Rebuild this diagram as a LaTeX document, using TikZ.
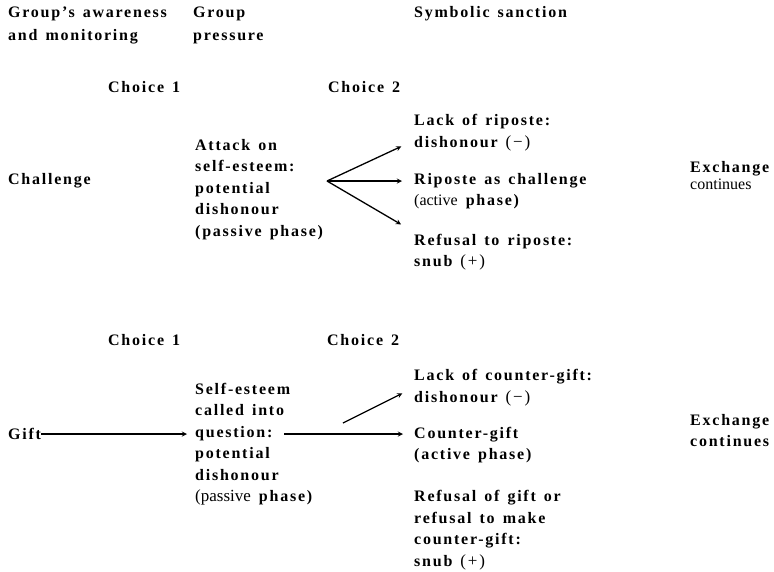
\documentclass[tikz,border=0pt]{standalone}
\usepackage{fontspec}
\setmainfont{Liberation Serif}[LetterSpace=11,WordSpace=1.4]
\usepackage{tikz}
\usetikzlibrary{positioning,arrows}
\newcommand{\sign}[1]{{\mdseries\fontsize{17}{21.5}\selectfont(#1)}}

\begin{document}
\begin{tikzpicture}[x=1pt,y=-1pt]
                \tikzstyle{lbl} = [anchor=west, align=left, inner sep=0pt, font=\bfseries\fontsize{16}{21.5}\selectfont]
                \tikzstyle{arrow} = [line width=1.3pt,->,>=stealth]
                \useasboundingbox (0,0) rectangle (774,571);
                % column heads
                \node (aware) [lbl] at (8,25.5) {Group's awareness\\[1.5pt]and monitoring};
                \node (pressure) [lbl] at (193,25.5) {Group\\[1.5pt]pressure};
                \node (sanction) [lbl] at (414,14) {Symbolic sanction};

                % challenge
                \node (choiceA1) [lbl] at (108,87) {Choice 1};
                \node (choiceA2) [lbl] at (328,87) {Choice 2};
                \node (chall) [lbl] at (8,181) {Challenge};
                \node (attack) [lbl] at (195,189.5) {Attack on\\self-esteem:\\potential\\dishonour\\(passive phase)};
                \coordinate (branch) at (327,181);
                \node (lackR) [lbl] at (414,132.5) {Lack of riposte:\\dishonour \sign{−}};
                \node (riposte) [lbl] at (414,191) {Riposte as challenge\\{\mdseries\addfontfeature{LetterSpace=0}(active} phase)};
                \node (refR) [lbl] at (414,252) {Refusal to riposte:\\snub \sign{+}};
                \node (exchA) [lbl] at (690,175.5) {Exchange\\[-4pt]{\mdseries\addfontfeature{LetterSpace=0}continues}};

                \draw [arrow, shorten >=14pt] (branch) -- ([yshift=-8pt]lackR.west);
                \draw [arrow, shorten >=12pt] (branch) -- (branch -| riposte.west);
                \draw [arrow, shorten >=15pt] (branch) -- ([yshift=20pt]refR.west);

                % gift
                \node (choiceB1) [lbl] at (108,340) {Choice 1};
                \node (choiceB2) [lbl] at (327,340) {Choice 2};
                \node (gift) [lbl] at (8,434) {Gift};
                \node (selfe) [lbl] at (195,444) {Self-esteem\\called into\\question:\\potential\\dishonour\\{\mdseries\addfontfeature{LetterSpace=0}\fontsize{17}{21.5}\selectfont(passive} phase)};
                \coordinate (qend) at (284,434);
                \coordinate (lackstart) at (343,423);
                \node (lackG) [lbl] at (414,387.5) {Lack of counter-gift:\\dishonour \sign{−}};
                \node (cgift) [lbl] at (414,445) {Counter-gift\\(active phase)};
                \node (refG) [lbl] at (414,530) {Refusal of gift or\\refusal to make\\counter-gift:\\snub \sign{+}};
                \node (exchB) [lbl] at (690,430.5) {Exchange\\continues};

                \draw [arrow, shorten >=8pt] (gift.east) -- (gift.east -| selfe.west);
                \draw [arrow, shorten >=11pt] (qend) -- (qend -| cgift.west);
                \draw [arrow, shorten >=13pt] (lackstart) -- (lackG.west);

\end{tikzpicture}
\end{document}
